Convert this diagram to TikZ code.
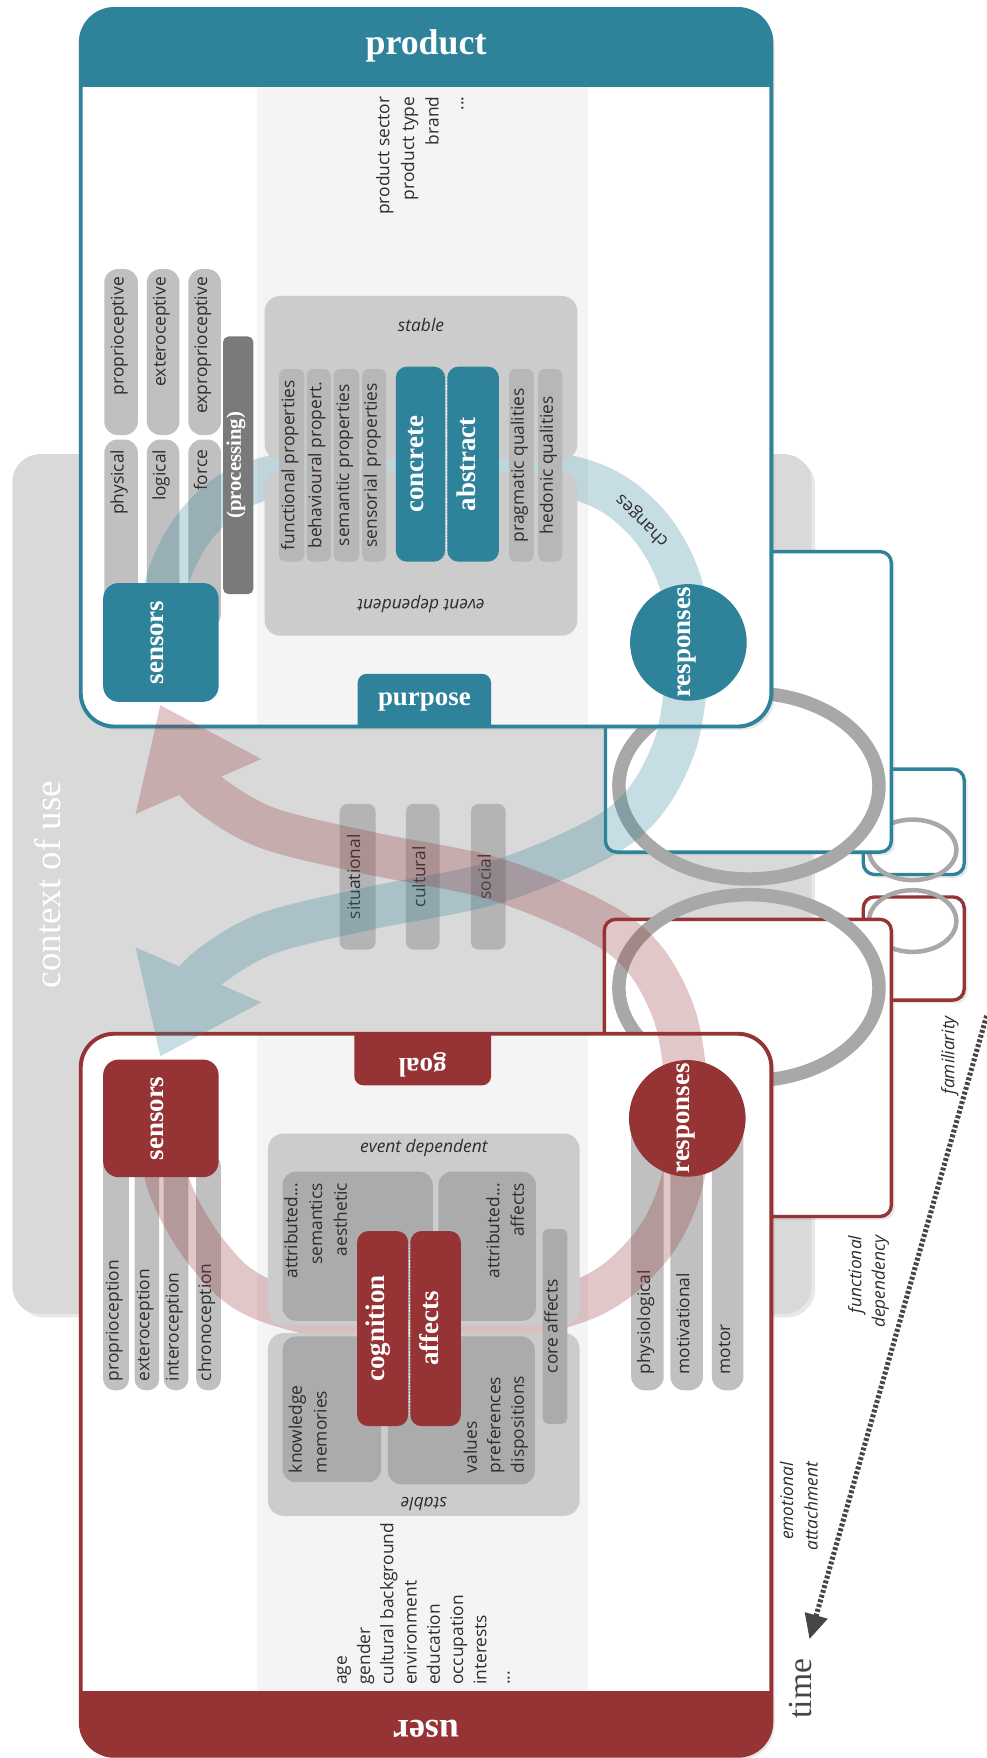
\documentclass[tikz,border=0pt]{standalone}
\usepackage{fontspec}
\setmainfont{Liberation Serif}
\newfontfamily\osans{Open Sans}
\usetikzlibrary{shadows,arrows.meta}
\definecolor{blueC}{RGB}{46,131,155}
\definecolor{redC}{RGB}{150,51,53}
\definecolor{ctx}{RGB}{217,217,217}
\definecolor{lband}{RGB}{244,244,244}
\definecolor{boxg}{RGB}{204,204,204}
\definecolor{barg}{RGB}{192,192,192}
\definecolor{propg}{RGB}{183,183,183}
\definecolor{innerg}{RGB}{171,171,171}
\definecolor{sitg}{RGB}{180,180,180}
\definecolor{procg}{RGB}{122,122,122}
\definecolor{ellg}{RGB}{168,168,168}
\definecolor{txt}{RGB}{45,45,45}
\definecolor{darkg}{RGB}{70,70,70}
\newcommand\labfont{\osans\fontsize{15.5}{19}\selectfont}
\newcommand\labifont{\osans\itshape\fontsize{15.5}{19}\selectfont}
\newcommand\keyfont{\bfseries\fontsize{24}{28}\selectfont}
\newcommand\headfont{\bfseries\fontsize{32}{36}\selectfont}
\tikzset{
  tlab/.style={font=\labfont, text=txt, inner sep=0pt},
  tlabr/.style={tlab, rotate=90},
  tlabi/.style={font=\labifont, text=txt, inner sep=0pt},
  tlabir/.style={tlabi, rotate=90},
  tkey/.style={font=\keyfont, text=white, inner sep=0pt},
  tkeyr/.style={tkey, rotate=90},
  thead/.style={font=\headfont, text=white, inner sep=0pt},
  pbar/.style={fill=barg, rounded corners=12pt},
  ubar/.style={fill=barg, rounded corners=10pt},
  propbar/.style={fill=propg, rounded corners=6pt},
  sitbar/.style={fill=sitg, rounded corners=7pt},
  gbox/.style={fill=boxg, rounded corners=14pt},
  ibox/.style={fill=innerg, rounded corners=12pt},
  softshadow/.style={drop shadow={shadow xshift=3pt, shadow yshift=-3pt, opacity=0.18}},
  rbox/.style={fill=white, line width=3pt, rounded corners=10pt, softshadow},
  bandline/.style={line width=38pt},
  dotsep/.style={white, line width=1.3pt, dash pattern=on 1.2pt off 1.6pt},
  timeline/.style={line width=4.5pt, draw=darkg, dash pattern=on 2.6pt off 1.8pt, -{Triangle[length=22pt,width=20pt]}}
}
\begin{document}
\begin{tikzpicture}[x=1pt,y=-1pt]
\useasboundingbox (0,0) rectangle (880,1568);
\fill[white] (0,0) rectangle (880,1568);

% ---------- context of use ----------
\path[fill=ctx, rounded corners=25pt, softshadow] (11,405) rectangle (724,1172);
\node[rotate=90, text=white, inner sep=0pt, font=\fontsize{33}{36}\selectfont, anchor=mid] (ctxl) at (52,789) {context of use};

% ---------- right boxes ----------
\path[rbox, draw=blueC] (770,686) rectangle (860,780);
\path[rbox, draw=redC] (770,800) rectangle (860,892);
\draw[ellg, line width=4pt] (814,758) ellipse [x radius=39, y radius=27];
\draw[ellg, line width=4pt] (814,821.5) ellipse [x radius=39, y radius=27.5];
\path[rbox, draw=blueC] (540,492) rectangle (795,760);
\path[rbox, draw=redC] (539,820) rectangle (795,1085);
\draw[ellg, line width=12pt] (668,701) ellipse [x radius=116, y radius=83];
\draw[ellg, line width=12pt] (668,881) ellipse [x radius=116, y radius=83];

% ---------- product box ----------
\path[fill=white, rounded corners=30pt, softshadow] (72,8) rectangle (688,648);
\begin{scope}
  \clip[rounded corners=30pt] (72,8) rectangle (688,648);
  \fill[lband] (229,78) rectangle (524,648);
  \fill[blueC] (72,0) rectangle (688,78);
  \fill[blueC, rounded corners=8pt] (319,601) rectangle (438,680);
\end{scope}
\draw[blueC, line width=3.5pt, rounded corners=30pt] (72,8) rectangle (688,648);
\node[thead, anchor=mid] (prodh) at (380,46) {product};
\node[tkey, anchor=mid] (purp) at (378.5,627) {purpose};

\node[tlabr, anchor=mid east] (pi1) at (345,86) {product sector};
\node[tlabr, anchor=mid east] (pi2) at (367,86) {product type};
\node[tlabr, anchor=mid east] (pi3) at (389,86) {brand};
\node[tlabr, anchor=mid east] (pi4) at (411,86) {...};

% product sensor bars
\fill[pbar] (93,240) rectangle (123,388);
\fill[pbar] (131,240) rectangle (160,388);
\fill[pbar] (168,240) rectangle (197,388);
\fill[pbar] (93,392) rectangle (123,560);
\fill[pbar] (131,392) rectangle (160,560);
\fill[pbar] (168,392) rectangle (197,560);
\node[tlabr, anchor=mid east] (ps1) at (108,247) {proprioceptive};
\node[tlabr, anchor=mid east] (ps2) at (145.5,247) {exteroceptive};
\node[tlabr, anchor=mid east] (ps3) at (182.5,247) {exproprioceptive};
\node[tlabr, anchor=mid east] (ps4) at (108,401) {physical};
\node[tlabr, anchor=mid east] (ps5) at (145.5,401) {logical};
\node[tlabr, anchor=mid east] (ps6) at (182.5,401) {force};

% ---------- user box ----------
\path[fill=white, rounded corners=30pt, softshadow] (72,922) rectangle (688,1566);
\begin{scope}
  \clip[rounded corners=30pt] (72,922) rectangle (688,1566);
  \fill[lband] (229,922) rectangle (524,1508);
  \fill[redC] (72,1508) rectangle (688,1580);
  \fill[redC, rounded corners=8pt] (316,900) rectangle (438,968);
\end{scope}
\draw[redC, line width=3.5pt, rounded corners=30pt] (72,922) rectangle (688,1566);
\node[thead, rotate=180, anchor=mid] (userh) at (380,1537) {user};
\node[tkey, rotate=180, anchor=mid] (goal) at (377,946) {goal};

\node[tlabr, anchor=mid west] (ui1) at (307,1503) {age};
\node[tlabr, anchor=mid west] (ui2) at (327.75,1503) {gender};
\node[tlabr, anchor=mid west] (ui3) at (348.5,1503) {cultural background};
\node[tlabr, anchor=mid west] (ui4) at (369.25,1503) {environment};
\node[tlabr, anchor=mid west] (ui5) at (390,1503) {education};
\node[tlabr, anchor=mid west] (ui6) at (410.75,1503) {occupation};
\node[tlabr, anchor=mid west] (ui7) at (431.5,1503) {interests};
\node[tlabr, anchor=mid west] (ui8) at (452.25,1503) {...};

% user sensor bars
\fill[ubar] (92,1030) rectangle (115,1240);
\fill[ubar] (120,1030) rectangle (142,1240);
\fill[ubar] (146,1030) rectangle (168,1240);
\fill[ubar] (175,1030) rectangle (197,1240);
\node[tlabr, anchor=mid west] (us1) at (103.5,1232) {proprioception};
\node[tlabr, anchor=mid west] (us2) at (131,1232) {exteroception};
\node[tlabr, anchor=mid west] (us3) at (157,1232) {interoception};
\node[tlabr, anchor=mid west] (us4) at (186,1232) {chronoception};

% user response bars
\fill[pbar] (563,990) rectangle (592,1240);
\fill[pbar] (598,990) rectangle (627,1240);
\fill[pbar] (635,990) rectangle (663,1240);
\node[tlabr, anchor=mid west] (ur1) at (577.5,1226) {physiological};
\node[tlabr, anchor=mid west] (ur2) at (612.5,1226) {motivational};
\node[tlabr, anchor=mid west] (ur3) at (649,1226) {motor};

% ---------- context factors ----------
\fill[sitbar] (303,717) rectangle (335,847);
\fill[sitbar] (362,717) rectangle (392,847);
\fill[sitbar] (420,717) rectangle (451,847);
\node[tlabr, anchor=mid] (cx1) at (319,782) {situational};
\node[tlabr, anchor=mid] (cx2) at (377,782) {cultural};
\node[tlabr, anchor=mid] (cx3) at (435.5,782) {social};

% ---------- bands (circular arrows) ----------
\begin{scope}[transparency group, opacity=0.27]
  \draw[bandline, blueC] plot[smooth, tension=0.55] coordinates {(148,592) (148,522) (180,462) (236,427) (375,408) (515,427) (574,463) (607,520) (613,590) (600,670) (555,735) (448,785) (330,810) (240,832) (190,860) (165,885)};
  \fill[blueC] (121,845) -- (143,942) -- (233,894) -- cycle;
\end{scope}
\begin{scope}[transparency group, opacity=0.27]
  \draw[bandline, redC] plot[smooth, tension=0.55] coordinates {(148,979) (148,1049) (185,1118) (240,1161) (375,1186) (515,1161) (578,1115) (608,1055) (613,985) (600,901) (555,836) (448,786) (330,761) (240,739) (190,711) (165,686)};
  \fill[redC] (121,726) -- (143,629) -- (233,677) -- cycle;
\end{scope}
\node[tlab, rotate=135, anchor=mid] (chg) at (574,463) {changes};

% ---------- product inner ----------
\fill[procg, rounded corners=5pt] (199,300) rectangle (226,530);
\node[tkeyr, anchor=mid, font=\bfseries\fontsize{18.5}{20}\selectfont] (proc) at (212.5,415) {(processing)};
\fill[blueC, rounded corners=14pt] (92,520) rectangle (195,626);
\node[tkeyr, anchor=mid] (psens) at (143.5,573) {sensors};
\fill[blueC] (614,573) circle [radius=52];
\node[tkeyr, anchor=mid] (presp) at (614,573) {responses};

\fill[gbox] (236,264) rectangle (515,410);
\fill[gbox] (236,421) rectangle (515,567);
\node[tlabi, anchor=mid] (pstab) at (375.5,293) {stable};
\node[tlabi, rotate=180, anchor=mid] (pevt) at (375.5,537) {event dependent};
\fill[propbar] (249,329) rectangle (271.5,501);
\fill[propbar] (273.5,329) rectangle (295,501);
\fill[propbar] (297.5,329) rectangle (320.5,501);
\fill[propbar] (323,329) rectangle (344.5,501);
\fill[propbar] (454,329) rectangle (476,501);
\fill[propbar] (480,329) rectangle (501.5,501);
\node[tlabr, anchor=mid] (pp1) at (260.25,415) {functional properties};
\node[tlabr, anchor=mid] (pp2) at (284.25,415) {behavioural propert.};
\node[tlabr, anchor=mid] (pp3) at (309,415) {semantic properties};
\node[tlabr, anchor=mid] (pp4) at (333.75,415) {sensorial\, properties};
\node[tlabr, anchor=mid] (pp5) at (465,415) {pragmatic qualities};
\node[tlabr, anchor=mid] (pp6) at (490.75,415) {hedonic qualities};
\fill[blueC, rounded corners=10pt] (353,327) rectangle (397,501);
\fill[blueC, rounded corners=10pt] (399,327) rectangle (445,501);
\draw[dotsep] (398,338) -- (398,490);
\node[tkeyr, anchor=mid] (conc) at (375,414) {concrete};
\node[tkeyr, anchor=mid] (abst) at (422,414) {abstract};

% ---------- user inner ----------
\fill[redC, rounded corners=14pt] (92,945) rectangle (195,1050);
\node[tkeyr, anchor=mid] (usens) at (143.5,997.5) {sensors};
\fill[redC] (613,997.5) circle [radius=52];
\node[tkeyr, anchor=mid] (uresp) at (613,997.5) {responses};

\fill[gbox] (239,1011) rectangle (517,1182);
\fill[gbox] (239,1189) rectangle (517,1352);
\node[tlabi, anchor=mid] (uevt) at (378,1026) {event dependent};
\node[tlabi, rotate=180, anchor=mid] (ustab) at (378,1338) {stable};
\fill[ibox] (252,1045) rectangle (386,1178);
\fill[ibox] (391,1045) rectangle (478,1178);
\fill[ibox] (252,1192) rectangle (340,1322);
\fill[ibox] (346,1192) rectangle (477,1324);
\fill[innerg, rounded corners=5pt] (484,1096) rectangle (506,1270);
\node[tlabr, anchor=mid east] (ua1) at (263,1055) {attributed...};
\node[tlabr, anchor=mid east] (ua2) at (285,1055) {semantics};
\node[tlabr, anchor=mid east] (ua3) at (307,1055) {aesthetic};
\node[tlabr, anchor=mid east] (ub1) at (443,1055) {attributed...};
\node[tlabr, anchor=mid east] (ub2) at (465,1055) {affects};
\node[tlabr, anchor=mid west] (uk1) at (267,1314) {knowledge};
\node[tlabr, anchor=mid west] (uk2) at (289,1314) {memories};
\node[tlabr, anchor=mid west] (uv1) at (423,1314) {values};
\node[tlabr, anchor=mid west] (uv2) at (444,1314) {preferences};
\node[tlabr, anchor=mid west] (uv3) at (465,1314) {dispositions};
\node[tlabr, anchor=mid] (ucore) at (495,1183) {core affects};
\fill[redC, rounded corners=10pt] (318.5,1098) rectangle (364,1272);
\fill[redC, rounded corners=10pt] (366,1098) rectangle (411,1272);
\draw[dotsep] (365,1110) -- (365,1262);
\node[tkeyr, anchor=mid] (ucog) at (341,1185) {cognition};
\node[tkeyr, anchor=mid] (uaff) at (388.5,1185) {affects};

% ---------- time arrow ----------
\coordinate (ts) at (880,906);
\coordinate (te) at (722,1462);
\draw[timeline] (ts) -- (te);
\node[tlabir, anchor=mid east] (fam) at (849,906) {familiarity};
\node[tlabir, anchor=mid east] (fd1) at (766,1102) {functional};
\node[tlabir, anchor=mid east] (fd2) at (787,1102) {dependency};
\node[tlabir, anchor=mid east] (ea1) at (705,1304) {emotional};
\node[tlabir, anchor=mid east] (ea2) at (727,1304) {attachment};
\node[rotate=90, anchor=mid, inner sep=0pt, text=darkg, font=\fontsize{30}{32}\selectfont] (time) at (721.5,1506) {time};
\end{tikzpicture}
\end{document}
